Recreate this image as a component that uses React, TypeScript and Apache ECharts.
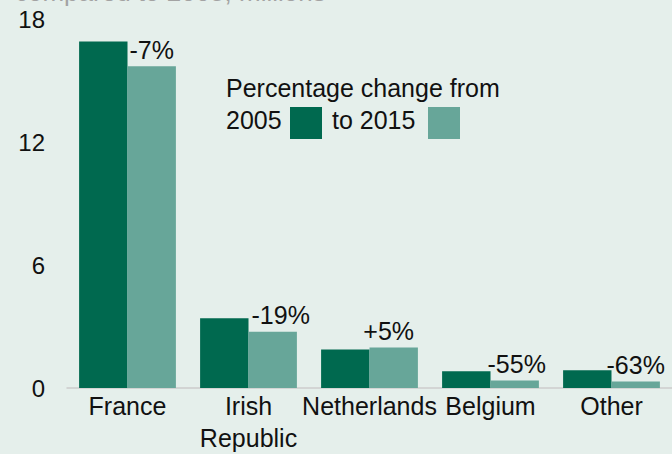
import React, { useEffect, useRef } from "react";
import * as echarts from "echarts";

const categories = ["France", "Irish\nRepublic", "Netherlands", "Belgium", "Other"];
const values2005 = [16.9, 3.4, 1.88, 0.82, 0.87];
const values2015 = [15.7, 2.75, 1.97, 0.37, 0.32];
const changeLabels = ["-7%", "-19%", "+5%", "-55%", "-63%"];
const yTicks = [0, 6, 12, 18];

const FONT = "'Liberation Sans', Arial, sans-serif";
const DARK = "#00694f";
const LIGHT = "#67a699";
const BG = "#e5efeb";
const FS = 25;
const labelShiftX = [0, 8, -5, 2, 0];

export default function App() {
  const ref = useRef<HTMLDivElement>(null);
  useEffect(() => {
    if (!ref.current) return;
    const chart = echarts.init(ref.current, undefined, { renderer: "svg" });
    chart.setOption({
      animation: false,
      backgroundColor: BG,
      textStyle: { fontFamily: FONT },
      grid: { left: 67, top: 19, width: 609, height: 370, containLabel: false },
      xAxis: {
        type: "category",
        data: categories,
        axisLine: { lineStyle: { color: "#cccccc", width: 1.5 } },
        axisTick: { show: false },
        axisLabel: {
          color: "#111",
          fontSize: FS,
          fontFamily: FONT,
          lineHeight: 32,
          margin: 2,
          interval: 0,
        },
      },
      yAxis: {
        type: "value",
        min: yTicks[0],
        max: yTicks[yTicks.length - 1],
        interval: 6,
        splitLine: { show: false },
        axisLine: { show: false },
        axisTick: { show: false },
        axisLabel: { color: "#111", fontSize: 24, fontFamily: FONT, margin: 22 },
      },
      series: [
        {
          name: "2005",
          type: "bar",
          data: values2005,
          itemStyle: { color: DARK },
          barGap: "0%",
          barCategoryGap: "20%",
        },
        {
          name: "2015",
          type: "bar",
          data: values2015.map((v, i) => ({
            value: v,
            label: { offset: [labelShiftX[i], 0] },
          })),
          itemStyle: { color: LIGHT },
          barGap: "0%",
          barCategoryGap: "20%",
          label: {
            show: true,
            position: "top",
            distance: 4,
            color: "#111",
            fontSize: FS,
            fontFamily: FONT,
            formatter: (p: any) => changeLabels[p.dataIndex],
          },
        },
      ],
      graphic: [
        {
          type: "text",
          left: 15,
          top: -21,
          style: {
            text: "compared to 2005, millions",
            fill: "#a3a3a3",
            font: `26px ${FONT}`,
          },
        },
        {
          type: "text",
          x: 226,
          y: 88,
          style: {
            text: "Percentage change from",
            fill: "#111",
            font: `${FS}px ${FONT}`,
            textVerticalAlign: "middle",
          },
        },
        {
          type: "text",
          x: 226,
          y: 120,
          style: {
            text: "2005",
            fill: "#111",
            font: `${FS}px ${FONT}`,
            textVerticalAlign: "middle",
          },
        },
        {
          type: "rect",
          shape: { x: 290, y: 107, width: 32, height: 32 },
          style: { fill: DARK },
        },
        {
          type: "text",
          x: 332,
          y: 120,
          style: {
            text: "to 2015",
            fill: "#111",
            font: `${FS}px ${FONT}`,
            textVerticalAlign: "middle",
          },
        },
        {
          type: "rect",
          shape: { x: 428, y: 107, width: 32, height: 32 },
          style: { fill: LIGHT },
        },
      ],
    });
    return () => chart.dispose();
  }, []);
  return (
    <div
      ref={ref}
      style={{ position: "fixed", left: 0, top: 0, width: 672, height: 454 }}
    />
  );
}
